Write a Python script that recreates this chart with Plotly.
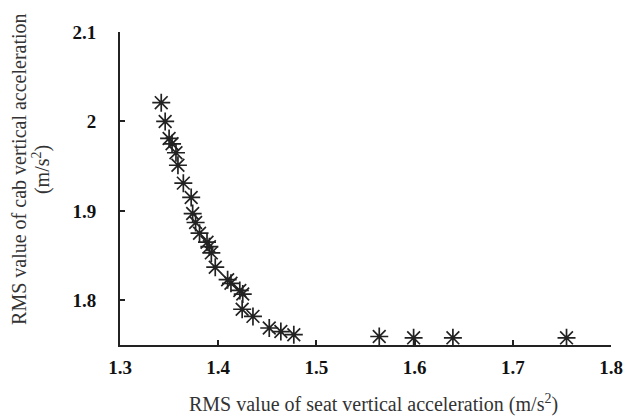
import plotly.graph_objects as go

seat_rms = [1.342, 1.346, 1.350, 1.353, 1.357, 1.359, 1.3645, 1.3725, 1.374, 1.377,
            1.381, 1.3886, 1.391, 1.393, 1.397, 1.4096, 1.413, 1.422, 1.425, 1.4244,
            1.4354, 1.452, 1.4638, 1.477, 1.564, 1.599, 1.639, 1.7547]
cab_rms = [2.021, 2.000, 1.981, 1.975, 1.965, 1.951, 1.931, 1.915, 1.897, 1.887,
           1.875, 1.865, 1.860, 1.853, 1.837, 1.823, 1.819, 1.811, 1.807, 1.790,
           1.782, 1.769, 1.765, 1.7615, 1.7595, 1.758, 1.758, 1.758]

x_ticks = [1.3, 1.4, 1.5, 1.6, 1.7, 1.8]
x_tick_labels = ["1.3", "1.4", "1.5", "1.6", "1.7", "1.8"]
y_ticks = [1.8, 1.9, 2.0, 2.1]
y_tick_labels = ["1.8", "1.9", "2", "2.1"]

x_title = "RMS value of seat vertical acceleration (m/s<sup>2</sup>)"
y_title_1 = "RMS value of cab vertical acceleration"
y_title_2 = "(m/s<sup>2</sup>)"

fig = go.Figure()
fig.add_trace(go.Scatter(
    x=seat_rms, y=cab_rms, mode="markers",
    marker=dict(symbol="asterisk-open", size=15, color="#222",
                line=dict(color="#222", width=1.7)),
    showlegend=False,
))

tick_font = dict(family="Liberation Serif", size=19, color="#111", weight="bold")
title_font = dict(family="Liberation Serif", size=20, color="#333")
fig.update_layout(
    width=627, height=408,
    margin=dict(l=112, r=17, t=24, b=71),
    paper_bgcolor="white", plot_bgcolor="white",
    xaxis=dict(range=[1.3, 1.8], tickvals=x_ticks, ticktext=x_tick_labels,
               showgrid=False, zeroline=False, showline=True, linecolor="#222",
               linewidth=2, ticks="inside", ticklen=5, tickwidth=2, tickcolor="#222",
               tickfont=tick_font, ticklabelstandoff=4),
    yaxis=dict(range=[1.75, 2.1], tickvals=y_ticks, ticktext=y_tick_labels,
               showgrid=False, zeroline=False, showline=True, linecolor="#222",
               linewidth=2, ticks="inside", ticklen=5, tickwidth=2, tickcolor="#222",
               tickfont=tick_font, ticklabelstandoff=18),
    annotations=[
        dict(text=x_title, xref="paper", yref="paper", x=0.516, y=-0.188,
             xanchor="center", yanchor="middle", showarrow=False, font=title_font),
        dict(text=y_title_1, xref="paper", yref="paper", x=-0.206, y=0.562,
             xanchor="center", yanchor="middle", textangle=-90, showarrow=False,
             font=title_font),
        dict(text=y_title_2, xref="paper", yref="paper", x=-0.161, y=0.562,
             xanchor="center", yanchor="middle", textangle=-90, showarrow=False,
             font=title_font),
    ],
)

fig.write_html("out.html")
